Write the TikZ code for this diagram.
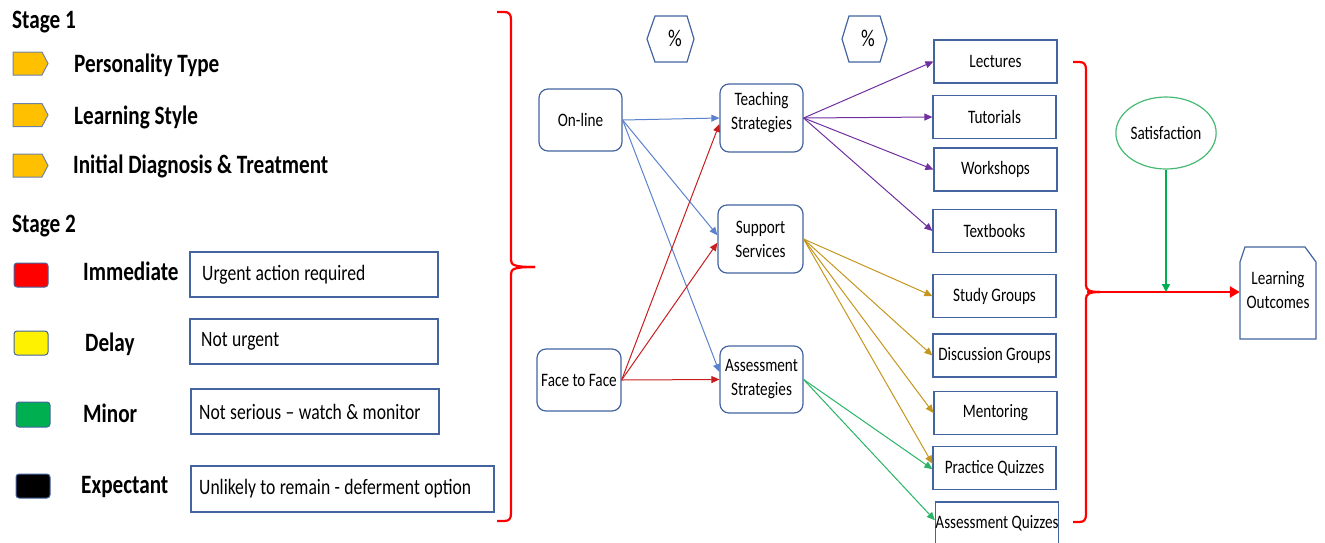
\documentclass[tikz,border=0pt]{standalone}
\usepackage{fontspec}
\setmainfont{Carlito}[FakeStretch=0.8]
\usetikzlibrary{arrows.meta,shapes.geometric}
\definecolor{nodeblue}{RGB}{68,100,160}
\definecolor{penborder}{RGB}{110,130,170}
\definecolor{penfill}{RGB}{255,192,0}
\definecolor{cblue}{RGB}{90,130,205}
\definecolor{cred}{RGB}{200,30,30}
\definecolor{cpurple}{RGB}{112,48,160}
\definecolor{cgold}{RGB}{196,150,30}
\definecolor{cgreen}{RGB}{40,180,100}
\definecolor{satgreen}{RGB}{70,185,115}
\definecolor{agreen}{RGB}{0,176,80}
\definecolor{bred}{RGB}{255,0,0}
\newcommand\myfnode{\fontsize{19}{24}\selectfont}
\newcommand\myflab{\bfseries\fontsize{26.5}{30}\selectfont}
\newcommand\myfleg{\fontsize{22}{26}\selectfont\spaceskip=0.2em plus 0.02em minus 0.02em\relax}
\newcommand\myfpct{\fontsize{24}{28}\selectfont}
\begin{document}
\begin{tikzpicture}[x=1pt,y=-1pt,
  rbox/.style={draw=nodeblue, line width=1.2pt, rounded corners=9pt, fill=white, inner sep=0pt, align=center, font=\myfnode},
  sbox/.style={draw=nodeblue, line width=1.2pt, minimum width=123pt, minimum height=43pt, inner sep=0pt, font=\myfnode, fill=white},
  legbox/.style={draw=nodeblue, line width=1.2pt, inner sep=0pt},
  legtext/.style={anchor=west, inner sep=0pt, font=\myfleg},
  lab/.style={anchor=base west, font=\myflab, inner sep=0pt},
  pent/.style={draw=penborder, line width=1pt, fill=penfill},
  sq/.style={draw=nodeblue, line width=1pt, rounded corners=3pt},
  hexst/.style={draw=nodeblue, line width=1.2pt},
  conn/.style={line width=1pt, -{Triangle[length=8pt,width=7pt]}},
  brace/.style={draw=bred, line width=2.2pt}
]
\useasboundingbox (0,0) rectangle (1325,542);

% ---------- Legend ----------
\node[lab] (s1) at (12,28) {Stage 1};
\foreach \yy in {63.5,115,165.5}
  \draw[pent] (13,\yy-11.5) -- (42,\yy-11.5) -- (48,\yy) -- (42,\yy+11.5) -- (13,\yy+11.5) -- cycle;
\node[lab] (p1) at (74,72) {Personality Type};
\node[lab] (p2) at (74,124) {Learning Style};
\node[lab] (p3) at (73,173) {Initial Diagnosis \& Treatment};

\node[lab] (s2) at (12,232) {Stage 2};
\draw[sq, fill=red] (14,263) rectangle (48,287);
\draw[sq, fill=yellow] (14,331) rectangle (48,355);
\draw[sq, fill=agreen] (16,402) rectangle (50,427);
\draw[sq, fill=black] (16,474) rectangle (50,498);
\node[lab] (l1) at (83,280) {Immediate};
\node[lab] (l2) at (85,351) {Delay};
\node[lab] (l3) at (83,422) {Minor};
\node[lab] (l4) at (81,493) {Expectant};

\node[legbox, minimum width=248pt, minimum height=45pt] (b1) at (314,274.5) {};
\node[legbox, minimum width=248pt, minimum height=45pt] (b2) at (314,341.5) {};
\node[legbox, minimum width=248pt, minimum height=45pt] (b3) at (315,411.5) {};
\node[legbox, minimum width=303pt, minimum height=46pt] (b4) at (342.5,489) {};
\node[legtext] (t1) at (202,274.5) {Urgent action required};
\node[legtext] (t2) at (201,341.5) {Not urgent};
\node[legtext] (t3) at (199,411.5) {Not serious -- watch \& monitor};
\node[legtext] (t4) at (199,489) {Unlikely to remain - deferment option};

% left brace
\draw[brace] (497,12) -- (504,12) .. controls (509,12) and (511,14) .. (511,20) -- (511,260)
  .. controls (511,265) and (514,267) .. (535,267);
\draw[brace] (535,267) .. controls (514,267) and (511,269) .. (511,274) -- (511,513)
  .. controls (511,519) and (509,521) .. (504,521) -- (497,521);

% ---------- Hexagons ----------
\draw[hexst] (647,39) -- (655,16) -- (687,16) -- (694,39) -- (687,62) -- (655,62) -- cycle;
\node[font=\myfpct, inner sep=0pt] (h1) at (675,38) {\%};
\draw[hexst] (842,39) -- (849,16) -- (880,16) -- (887,39) -- (880,62) -- (849,62) -- cycle;
\node[font=\myfpct, inner sep=0pt] (h2) at (868,38) {\%};

% ---------- Middle nodes ----------
\node[rbox, minimum width=83pt, minimum height=62pt] (on) at (580.5,120) {On-line};
\node[rbox, minimum width=84pt, minimum height=62pt] (ff) at (579,380) {Face to Face};
\node[rbox, minimum width=83pt, minimum height=68pt] (teach) at (761.5,118) {Teaching\\Strategies\\[-10pt]\mbox{}};
\node[rbox, minimum width=85pt, minimum height=68pt] (supp) at (760.5,239) {Support\\Services};
\node[rbox, minimum width=83pt, minimum height=67pt] (asst) at (761.5,379.5) {Assessment\\Strategies};

% ---------- Right boxes ----------
\node[sbox] (lect) at (995.5,61.5) {Lectures};
\node[sbox] (tut) at (994.5,117) {Tutorials};
\node[sbox] (work) at (995.5,169.5) {Workshops};
\node[sbox] (textb) at (994.5,231) {Textbooks};
\node[sbox] (study) at (994.5,296) {Study Groups};
\node[sbox] (disc) at (994.5,355.5) {Discussion Groups};
\node[sbox] (ment) at (995.5,413) {Mentoring};
\node[sbox] (prac) at (994.5,468) {Practice Quizzes};
\node[sbox] (aq) at (997,523.5) {Assessment Quizzes};

% ---------- Connectors ----------
\draw[conn, cblue] (on.east) -- (teach.west);
\draw[conn, cblue] (on.east) -- (supp.175);
\draw[conn, cblue] (on.east) -- (asst.170);
\draw[conn, cred] (ff.east) -- (teach.188);
\draw[conn, cred] (ff.east) -- (supp.185);
\draw[conn, cred] (ff.east) -- (asst.west);

\draw[conn, cpurple] (teach.east) -- (lect.west);
\draw[conn, cpurple] (teach.east) -- (tut.west);
\draw[conn, cpurple] (teach.east) -- (work.west);
\draw[conn, cpurple] (teach.east) -- (textb.west);

\draw[conn, cgold] (supp.east) -- (study.west);
\draw[conn, cgold] (supp.east) -- (disc.west);
\draw[conn, cgold] (supp.east) -- (ment.west);
\draw[conn, cgold] (supp.east) -- (prac.176);

\draw[conn, cgreen] (asst.east) -- (prac.181);
\draw[conn, cgreen] (asst.east) -- (aq.177);

% ---------- Right brace and outcome ----------
\draw[brace] (1073,62) -- (1079,62) .. controls (1084,62) and (1086,64) .. (1086,70) -- (1086,285)
  .. controls (1086,290) and (1089,292) .. (1100,292);
\draw[brace] (1100,292) .. controls (1089,292) and (1086,294) .. (1086,299) -- (1086,514)
  .. controls (1086,520) and (1084,522) .. (1079,522) -- (1073,522);

\node[ellipse, draw=satgreen, line width=1.2pt, minimum width=82pt, minimum height=72pt, inner sep=0pt, font=\myfnode] (sat) at (1166,133) {Satisfaction};

\draw[draw=nodeblue, line width=1.2pt] (1240,262) -- (1245,247) -- (1305,247) -- (1316,262) -- (1316,339) -- (1240,339) -- cycle;
\node[align=center, font=\myfnode, minimum width=76pt, minimum height=92pt, inner sep=0pt] (lo) at (1278,292) {Learning\\Outcomes\\[-19pt]\mbox{}};

\coordinate (rb) at (1087,292);
\draw[bred, line width=2.8pt, -{Triangle[length=10pt,width=11pt]}] (rb) -- (lo.west);
\coordinate (j) at (1166,292);
\draw[agreen, line width=1.5pt, -{Triangle[length=8pt,width=8pt]}] (sat.south) -- (j);
\end{tikzpicture}
\end{document}
